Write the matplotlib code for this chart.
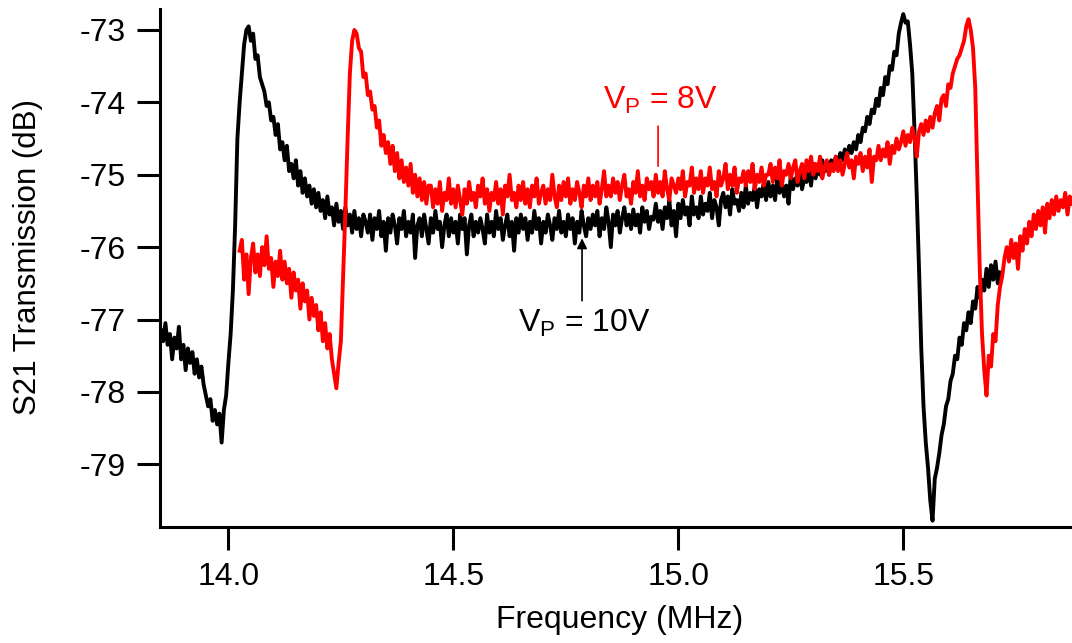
import numpy as np
import matplotlib
matplotlib.use("Agg")
import matplotlib.pyplot as plt

plt.rcParams['font.family'] = ['Liberation Sans', 'DejaVu Sans']
plt.rcParams['mathtext.fontset'] = 'custom'
plt.rcParams['mathtext.rm'] = 'Liberation Sans'
plt.rcParams['axes.unicode_minus'] = False

STEP = 0.005  # MHz, sweep step

# V_P = 10 V trace (black): segment start frequencies and dB values
black_start = [13.850, 14.000, 14.305, 14.900, 15.400]
black_db = [
    # 13.850 - 13.995
    [-77.15, -77.30, -77.05, -77.35, -77.20, -77.55, -77.25, -77.40, -77.10, -77.55,
     -77.35, -77.70, -77.40, -77.60, -77.45, -77.75, -77.55, -77.80, -77.65, -77.90,
     -78.05, -78.20, -78.10, -78.40, -78.25, -78.45, -78.30, -78.70, -78.25, -78.05],
    # 14.000 - 14.300
    [-77.60, -77.20, -76.60, -75.70, -74.50, -74.00, -73.60, -73.20, -73.00, -72.95,
     -73.15, -73.05, -73.40, -73.35, -73.65, -73.75, -73.85, -74.05, -74.00, -74.25,
     -74.20, -74.45, -74.30, -74.65, -74.55, -74.80, -74.60, -74.95, -74.85, -75.05,
     -74.80, -75.15, -74.95, -75.25, -75.05, -75.30, -75.15, -75.40, -75.20, -75.45,
     -75.25, -75.50, -75.35, -75.60, -75.30, -75.55, -75.45, -75.70, -75.40, -75.65,
     -75.50, -75.75, -75.45, -75.70, -75.55, -75.80, -75.50, -75.75, -75.60, -75.85,
     -75.55],
    # 14.305 - 14.895
    [-75.65, -75.80, -75.55, -75.90, -75.60, -75.75, -75.50, -75.85, -75.65, -76.05,
     -75.60, -75.80, -75.55, -75.70, -75.95, -75.60, -75.75, -75.50, -75.85, -75.65,
     -75.80, -75.55, -76.15, -75.70, -75.60, -75.85, -75.55, -75.75, -75.95, -75.60,
     -75.80, -75.50, -75.75, -75.65, -76.00, -75.70, -75.55, -75.85, -75.60, -75.80,
     -75.65, -75.95, -75.55, -75.75, -75.60, -76.10, -75.70, -75.55, -75.85, -75.65,
     -75.80, -75.60, -75.75, -75.95, -75.55, -75.80, -75.65, -75.85, -75.50, -75.75,
     -75.60, -75.90, -75.70, -75.55, -75.85, -75.65, -76.05, -75.60, -75.80, -75.55,
     -75.75, -75.60, -75.90, -75.65, -75.80, -75.50, -75.75, -75.60, -75.95, -75.65,
     -75.80, -75.55, -75.70, -75.90, -75.60, -75.75, -75.50, -75.80, -75.65, -75.85,
     -75.55, -75.75, -75.60, -75.95, -75.65, -75.80, -75.50, -75.70, -75.85, -75.60,
     -75.75, -75.55, -75.70, -75.50, -75.85, -75.60, -75.75, -75.45, -75.65, -76.00,
     -75.55, -75.70, -75.50, -75.80, -75.60, -75.45, -75.70, -75.55, -75.75],
    # 14.900 - 15.395
    [-75.48, -75.70, -75.55, -75.80, -75.45, -75.65, -75.50, -75.75, -75.58, -75.62,
     -75.40, -75.65, -75.50, -75.75, -75.45, -75.60, -75.35, -75.70, -75.50, -75.85,
     -75.40, -75.60, -75.35, -75.55, -75.45, -75.70, -75.30, -75.55, -75.45, -75.60,
     -75.30, -75.55, -75.40, -75.50, -75.25, -75.60, -75.35, -75.45, -75.70, -75.35,
     -75.25, -75.45, -75.30, -75.55, -75.20, -75.40, -75.35, -75.50, -75.25, -75.45,
     -75.15, -75.40, -75.25, -75.35, -75.15, -75.45, -75.20, -75.30, -75.10, -75.35,
     -75.10, -75.30, -75.15, -75.35, -75.05, -75.25, -75.10, -75.30, -75.15, -75.40,
     -75.00, -75.20, -75.05, -75.15, -74.95, -75.20, -75.05, -75.10, -74.90, -75.15,
     -74.85, -75.05, -74.90, -75.00, -74.80, -74.95, -74.85, -75.00, -74.80, -74.90,
     -74.75, -74.85, -74.70, -74.80, -74.65, -74.75, -74.60, -74.70, -74.55, -74.65],
    # 15.400 - 15.715
    [-74.45, -74.55, -74.35, -74.40, -74.20, -74.30, -74.10, -74.15, -73.95, -74.05,
     -73.80, -73.90, -73.65, -73.75, -73.50, -73.55, -73.30, -73.35, -73.05, -72.90,
     -72.78, -72.90, -72.88, -73.20, -73.60, -74.40, -75.30, -76.30, -77.40, -78.20,
     -78.70, -79.05, -79.50, -79.78, -79.20, -79.05, -78.85, -78.60, -78.45, -78.20,
     -78.10, -77.85, -77.75, -77.50, -77.55, -77.25, -77.35, -77.05, -77.15, -76.90,
     -77.05, -76.75, -76.85, -76.55, -76.70, -76.45, -76.60, -76.30, -76.55, -76.25,
     -76.45, -76.20, -76.50, -76.35],
]

# V_P = 8 V trace (red)
red_start = [14.025, 14.250, 14.350, 14.450, 15.200, 15.600]
red_db = [
    # 14.025 - 14.245
    [-76.05, -75.90, -76.45, -76.10, -76.65, -76.15, -75.95, -76.35, -76.10, -76.40,
     -76.00, -76.25, -75.85, -76.30, -76.15, -76.55, -76.20, -76.40, -76.05, -76.45,
     -76.20, -76.50, -76.30, -76.70, -76.35, -76.60, -76.45, -76.85, -76.50, -76.75,
     -76.60, -77.00, -76.70, -76.95, -76.80, -77.15, -76.90, -77.30, -77.05, -77.40,
     -77.20, -77.55, -77.75, -77.95, -77.60],
    # 14.250 - 14.345
    [-77.30, -76.40, -75.50, -74.50, -73.60, -73.15, -73.00, -73.05, -73.25, -73.30,
     -73.65, -73.60, -73.90, -73.85, -74.10, -74.05, -74.35, -74.25, -74.60, -74.45],
    # 14.350 - 14.445
    [-74.70, -74.55, -74.85, -74.60, -74.95, -74.70, -75.05, -74.80, -75.10, -74.90,
     -75.15, -74.85, -75.25, -75.00, -75.30, -75.05, -75.35, -75.10, -75.40, -75.15],
    # 14.450 - 15.195
    [-75.15, -75.45, -75.20, -75.40, -75.10, -75.50, -75.25, -75.35, -75.05, -75.40,
     -75.20, -75.45, -75.15, -75.35, -75.55, -75.20, -75.40, -75.10, -75.35, -75.25,
     -75.45, -75.15, -75.30, -75.05, -75.40, -75.20, -75.50, -75.25, -75.35, -75.10,
     -75.40, -75.20, -75.55, -75.15, -75.30, -75.00, -75.35, -75.25, -75.45, -75.15,
     -75.35, -75.10, -75.40, -75.20, -75.45, -75.15, -75.30, -75.05, -75.40, -75.25,
     -75.15, -75.40, -75.20, -75.35, -75.00, -75.30, -75.45, -75.15, -75.35, -75.10,
     -75.30, -75.05, -75.40, -75.20, -75.35, -75.10, -75.25, -75.45, -75.15, -75.30,
     -75.05, -75.35, -75.15, -75.30, -75.10, -75.40, -75.20, -74.95, -75.30, -75.15,
     -75.30, -75.05, -75.25, -75.10, -75.35, -75.15, -75.00, -75.30, -75.20, -75.40,
     -75.10, -75.25, -74.95, -75.30, -75.15, -75.35, -75.05, -75.20, -75.10, -75.30,
     -75.00, -75.25, -75.10, -75.30, -74.95, -75.20, -75.35, -75.05, -75.15, -75.25,
     -75.05, -75.20, -74.95, -75.30, -75.10, -75.15, -74.90, -75.25, -75.05, -75.20,
     -74.95, -75.25, -75.05, -75.15, -74.90, -75.20, -75.10, -75.30, -74.95, -75.15,
     -75.05, -74.85, -75.20, -75.00, -75.15, -74.90, -75.25, -75.05, -75.10, -74.95,
     -75.15, -74.95, -75.10, -74.85, -75.20, -75.00, -75.10, -74.90, -75.15, -75.00],
    # 15.200 - 15.595
    [-75.00, -74.85, -75.10, -74.90, -75.05, -74.80, -75.15, -74.95, -75.00, -74.85,
     -75.05, -74.90, -74.80, -75.10, -74.95, -74.85, -75.05, -74.80, -74.95, -74.75,
     -75.00, -74.85, -74.95, -74.75, -75.05, -74.90, -74.80, -75.00, -74.85, -74.95,
     -74.75, -74.95, -74.80, -75.00, -74.85, -74.70, -74.90, -74.80, -75.05, -74.75,
     -74.85, -74.70, -74.95, -74.75, -74.90, -74.65, -75.10, -74.75, -74.80, -74.60,
     -74.80, -74.65, -74.75, -74.55, -74.85, -74.60, -74.70, -74.50, -74.65, -74.55,
     -74.40, -74.60, -74.45, -74.55, -74.35, -74.50, -74.75, -74.40, -74.30, -74.45,
     -74.25, -74.40, -74.20, -74.35, -74.15, -74.05, -74.25, -73.95, -73.90, -74.05],
    # 15.600 - 15.875
    [-73.75, -73.80, -73.60, -73.50, -73.40, -73.35, -73.25, -73.15, -72.95, -72.85,
     -73.00, -73.25, -73.80, -75.10, -76.30, -77.20, -77.70, -78.05, -77.50, -77.65,
     -77.20, -77.30, -76.80, -76.55, -76.40, -76.15, -76.00, -76.20, -75.90, -76.15,
     -75.95, -76.30, -75.85, -76.05, -75.75, -75.95, -75.65, -75.85, -75.55, -75.75,
     -75.50, -75.70, -75.45, -75.80, -75.40, -75.60, -75.35, -75.55, -75.30, -75.50,
     -75.35, -75.45, -75.25, -75.55, -75.30, -75.40],
]

x_ticks = [14.0, 14.5, 15.0, 15.5]
y_ticks = [-79, -78, -77, -76, -75, -74, -73]


def join(starts, segs):
    f, d = [], []
    for f0, vals in zip(starts, segs):
        f.extend(f0 + STEP * np.arange(len(vals)))
        d.extend(vals)
    return np.array(f), np.array(d)


bf, bd = join(black_start, black_db)
rf, rd = join(red_start, red_db)

fig = plt.figure(figsize=(10.72, 6.43), dpi=100)
ax = fig.add_axes([160 / 1072, 116.5 / 643, 912 / 1072, 517.5 / 643])

ax.plot(bf, bd, color='black', lw=2.8, zorder=2)
ax.plot(rf, rd, color='#ff0000', lw=2.8, zorder=3)

ax.set_xlim(13.848, 15.875)
ax.set_ylim(-79.86, -72.71)
ax.set_xticks(x_ticks)
ax.set_xticklabels(['%.1f' % t for t in x_ticks])
ax.set_yticks(y_ticks)
ax.set_yticklabels([str(t) for t in y_ticks])

for s in ['top', 'right']:
    ax.spines[s].set_visible(False)
for s in ['left', 'bottom']:
    ax.spines[s].set_linewidth(2.2)
ax.tick_params(axis='both', direction='out', length=16.5, width=2.2,
               labelsize=23, colors='black')
ax.tick_params(axis='y', pad=8)
ax.tick_params(axis='x', pad=9)

ax.set_xlabel('Frequency (MHz)', fontsize=23)
ax.set_ylabel('S21 Transmission (dB)', fontsize=22.5)
ax.xaxis.set_label_coords(0.504, -0.152)
ax.yaxis.set_label_coords(-0.128, 0.52)

# labels
ax.text(14.833, -74.09, r'$\mathregular{V_P}$ = 8V', color='#ff0000',
        fontsize=23, ha='left', va='baseline')
ax.annotate('', xy=(14.955, -74.92), xytext=(14.955, -74.29),
            arrowprops=dict(arrowstyle='-', color='#ff0000', lw=1.2))
ax.text(14.644, -77.17, r'$\mathregular{V_P}$ = 10V', color='black',
        fontsize=23, ha='left', va='baseline')
ax.annotate('', xy=(14.786, -75.84), xytext=(14.786, -76.78),
            arrowprops=dict(arrowstyle='-|>', color='black', lw=1.2,
                            mutation_scale=15))

fig.savefig('out.png', dpi=100)
